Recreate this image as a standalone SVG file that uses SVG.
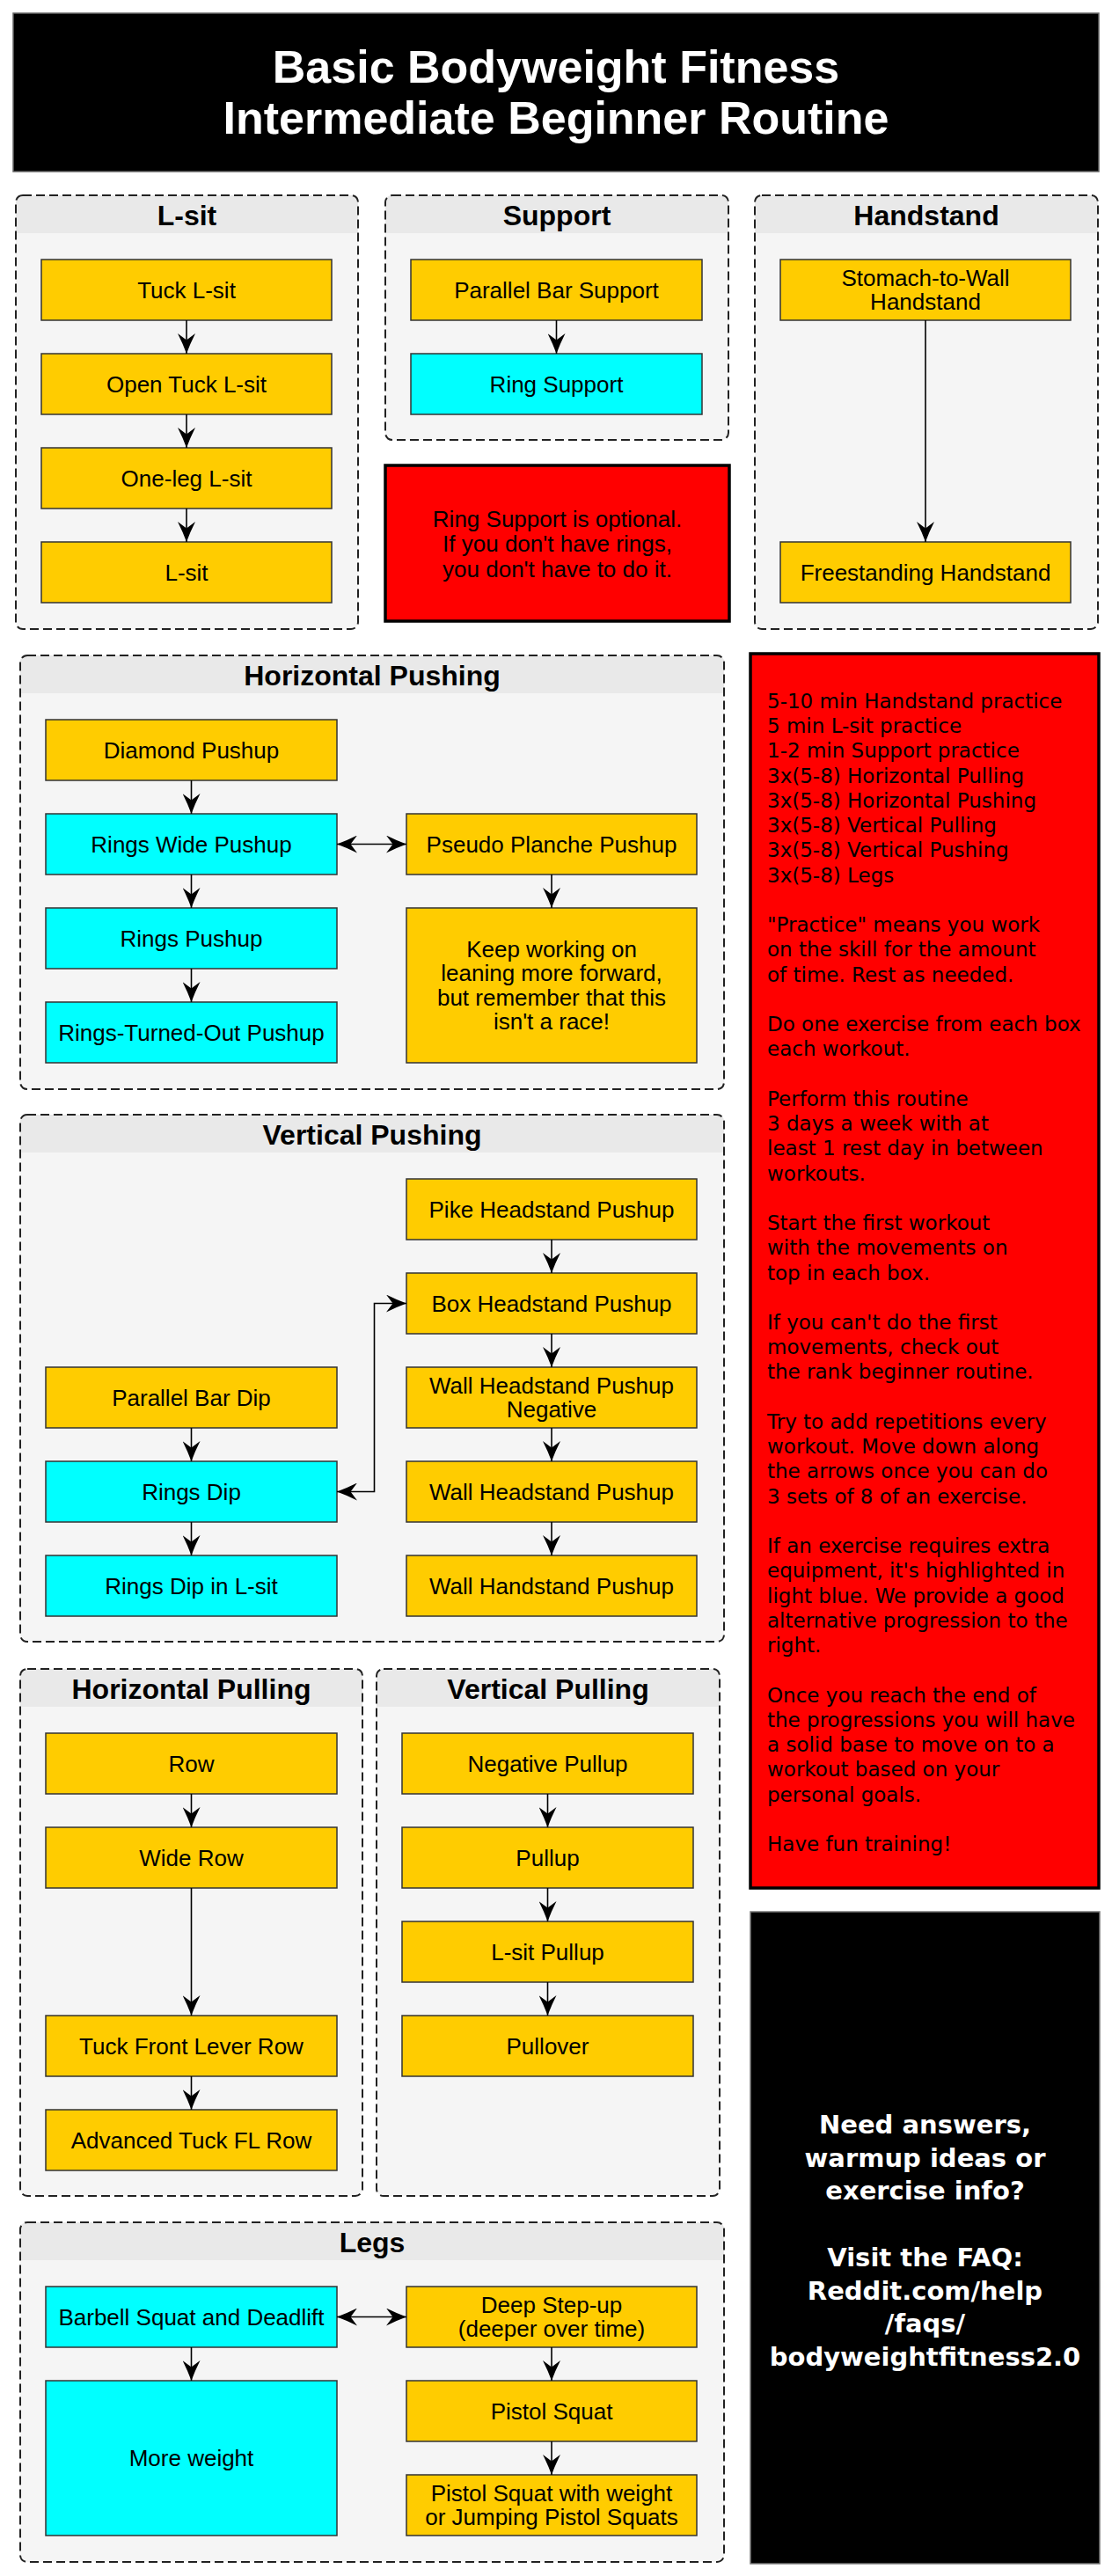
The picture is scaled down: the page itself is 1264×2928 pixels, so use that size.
<svg xmlns="http://www.w3.org/2000/svg" width="1264" height="2928" viewBox="0 0 1264 2928">
<style>
.cl{fill:#f5f5f5}
.hd{fill:#e9e9e9}
.bd{fill:none;stroke:#222;stroke-width:2;stroke-dasharray:10 5}
.ct{font-family:"Liberation Sans",Arial,sans-serif;font-weight:bold;font-size:32px;text-anchor:middle;fill:#000}
.y{fill:#ffcc00;stroke:#333;stroke-width:1.5}
.c{fill:#00ffff;stroke:#333;stroke-width:1.5}
.t{font-family:"Liberation Sans",Arial,sans-serif;font-size:26px;text-anchor:middle;fill:#000}
.e{fill:none;stroke:#000;stroke-width:1.6;marker-end:url(#ah)}
.d{marker-start:url(#ah)}
.p{font-family:"DejaVu Sans",Verdana,sans-serif;font-size:23px;fill:#000}
.w{font-family:"DejaVu Sans",Verdana,sans-serif;font-weight:bold;font-size:29px;fill:#fff;text-anchor:middle}
</style>
<defs>
<marker id="ah" viewBox="0 0 23 20" refX="23" refY="10" markerWidth="23" markerHeight="20" markerUnits="userSpaceOnUse" orient="auto-start-reverse">
<path d="M0,0 Q12,6 23,10 Q12,14 0,20 L7.5,10 Z" fill="#000"/>
</marker>
</defs>
<rect width="1264" height="2928" fill="#fff"/>

<g id="title">
<rect x="15" y="15" width="1234" height="180" fill="#000" stroke="#666" stroke-width="1.5"/>
<text x="632" y="94" font-family="Liberation Sans, Arial, sans-serif" font-weight="bold" font-size="52" fill="#fff" text-anchor="middle">Basic Bodyweight Fitness</text>
<text x="632" y="151.5" font-family="Liberation Sans, Arial, sans-serif" font-weight="bold" font-size="52" fill="#fff" text-anchor="middle">Intermediate Beginner Routine</text>
</g>

<!-- clusters -->
<g id="cluster-lsit">
<rect class="cl" x="18" y="222" width="389" height="493" rx="8"/>
<path class="hd" d="M18,265 V230 Q18,222 26,222 H399 Q407,222 407,230 V265 Z"/>
<rect class="bd" x="18" y="222" width="389" height="493" rx="8"/>
<text class="ct" x="212.5" y="256">L-sit</text>
</g>
<g id="cluster-support">
<rect class="cl" x="438" y="222" width="390" height="278" rx="8"/>
<path class="hd" d="M438,265 V230 Q438,222 446,222 H820 Q828,222 828,230 V265 Z"/>
<rect class="bd" x="438" y="222" width="390" height="278" rx="8"/>
<text class="ct" x="633" y="256">Support</text>
</g>
<g id="cluster-handstand">
<rect class="cl" x="858" y="222" width="390" height="493" rx="8"/>
<path class="hd" d="M858,265 V230 Q858,222 866,222 H1240 Q1248,222 1248,230 V265 Z"/>
<rect class="bd" x="858" y="222" width="390" height="493" rx="8"/>
<text class="ct" x="1053" y="256">Handstand</text>
</g>
<g id="cluster-hpush">
<rect class="cl" x="23" y="745" width="800" height="493" rx="8"/>
<path class="hd" d="M23,788 V753 Q23,745 31,745 H815 Q823,745 823,753 V788 Z"/>
<rect class="bd" x="23" y="745" width="800" height="493" rx="8"/>
<text class="ct" x="423" y="779">Horizontal Pushing</text>
</g>
<g id="cluster-vpush">
<rect class="cl" x="23" y="1267" width="800" height="599" rx="8"/>
<path class="hd" d="M23,1310 V1275 Q23,1267 31,1267 H815 Q823,1267 823,1275 V1310 Z"/>
<rect class="bd" x="23" y="1267" width="800" height="599" rx="8"/>
<text class="ct" x="423" y="1301">Vertical Pushing</text>
</g>
<g id="cluster-hpull">
<rect class="cl" x="23" y="1897" width="389" height="599" rx="8"/>
<path class="hd" d="M23,1940 V1905 Q23,1897 31,1897 H404 Q412,1897 412,1905 V1940 Z"/>
<rect class="bd" x="23" y="1897" width="389" height="599" rx="8"/>
<text class="ct" x="217.5" y="1931">Horizontal Pulling</text>
</g>
<g id="cluster-vpull">
<rect class="cl" x="428" y="1897" width="390" height="599" rx="8"/>
<path class="hd" d="M428,1940 V1905 Q428,1897 436,1897 H810 Q818,1897 818,1905 V1940 Z"/>
<rect class="bd" x="428" y="1897" width="390" height="599" rx="8"/>
<text class="ct" x="623" y="1931">Vertical Pulling</text>
</g>
<g id="cluster-legs">
<rect class="cl" x="23" y="2526" width="800" height="386" rx="8"/>
<path class="hd" d="M23,2569 V2534 Q23,2526 31,2526 H815 Q823,2526 823,2534 V2569 Z"/>
<rect class="bd" x="23" y="2526" width="800" height="386" rx="8"/>
<text class="ct" x="423" y="2560">Legs</text>
</g>

<!-- nodes: L-sit -->
<g id="tuck-lsit"><rect class="y" x="47" y="295" width="330" height="69"/><text class="t" x="212" y="338.5">Tuck L-sit</text></g>
<g id="open-tuck-lsit"><rect class="y" x="47" y="402" width="330" height="69"/><text class="t" x="212" y="445.5">Open Tuck L-sit</text></g>
<g id="one-leg-lsit"><rect class="y" x="47" y="509" width="330" height="69"/><text class="t" x="212" y="552.5">One-leg L-sit</text></g>
<g id="lsit"><rect class="y" x="47" y="616" width="330" height="69"/><text class="t" x="212" y="659.5">L-sit</text></g>

<!-- Support -->
<g id="parallel-bar-support"><rect class="y" x="467" y="295" width="331" height="69"/><text class="t" x="632.5" y="338.5">Parallel Bar Support</text></g>
<g id="ring-support"><rect class="c" x="467" y="402" width="331" height="69"/><text class="t" x="632.5" y="445.5">Ring Support</text></g>
<g id="ring-note"><rect x="438" y="529" width="391" height="177" fill="#ff0000" stroke="#000" stroke-width="3.5"/>
<text class="t" x="633.5" y="598.5">Ring Support is optional.</text>
<text class="t" x="633.5" y="627">If you don't have rings,</text>
<text class="t" x="633.5" y="655.5">you don't have to do it.</text></g>

<!-- Handstand -->
<g id="stomach-to-wall"><rect class="y" x="887" y="295" width="330" height="69"/><text class="t" x="1052" y="324.7">Stomach-to-Wall</text><text class="t" x="1052" y="352.3">Handstand</text></g>
<g id="freestanding"><rect class="y" x="887" y="616" width="330" height="69"/><text class="t" x="1052" y="659.5">Freestanding Handstand</text></g>

<!-- Horizontal Pushing -->
<g id="diamond-pushup"><rect class="y" x="52" y="818" width="331" height="69"/><text class="t" x="217.5" y="861.5">Diamond Pushup</text></g>
<g id="rings-wide-pushup"><rect class="c" x="52" y="925" width="331" height="69"/><text class="t" x="217.5" y="968.5">Rings Wide Pushup</text></g>
<g id="rings-pushup"><rect class="c" x="52" y="1032" width="331" height="69"/><text class="t" x="217.5" y="1075.5">Rings Pushup</text></g>
<g id="rings-turned-out"><rect class="c" x="52" y="1139" width="331" height="69"/><text class="t" x="217.5" y="1182.5">Rings-Turned-Out Pushup</text></g>
<g id="pseudo-planche"><rect class="y" x="462" y="925" width="330" height="69"/><text class="t" x="627" y="968.5">Pseudo Planche Pushup</text></g>
<g id="keep-working"><rect class="y" x="462" y="1032" width="330" height="176"/>
<text class="t" x="627" y="1087.75">Keep working on</text>
<text class="t" x="627" y="1115.25">leaning more forward,</text>
<text class="t" x="627" y="1142.75">but remember that this</text>
<text class="t" x="627" y="1170.25">isn't a race!</text></g>

<!-- Vertical Pushing -->
<g id="pike-hs-pushup"><rect class="y" x="462" y="1340" width="330" height="69"/><text class="t" x="627" y="1383.5">Pike Headstand Pushup</text></g>
<g id="box-hs-pushup"><rect class="y" x="462" y="1447" width="330" height="69"/><text class="t" x="627" y="1490.5">Box Headstand Pushup</text></g>
<g id="wall-hs-neg"><rect class="y" x="462" y="1554" width="330" height="69"/><text class="t" x="627" y="1583.7">Wall Headstand Pushup</text><text class="t" x="627" y="1611.3">Negative</text></g>
<g id="wall-hs-pushup"><rect class="y" x="462" y="1661" width="330" height="69"/><text class="t" x="627" y="1704.5">Wall Headstand Pushup</text></g>
<g id="wall-handstand-pushup"><rect class="y" x="462" y="1768" width="330" height="69"/><text class="t" x="627" y="1811.5">Wall Handstand Pushup</text></g>
<g id="parallel-bar-dip"><rect class="y" x="52" y="1554" width="331" height="69"/><text class="t" x="217.5" y="1597.5">Parallel Bar Dip</text></g>
<g id="rings-dip"><rect class="c" x="52" y="1661" width="331" height="69"/><text class="t" x="217.5" y="1704.5">Rings Dip</text></g>
<g id="rings-dip-lsit"><rect class="c" x="52" y="1768" width="331" height="69"/><text class="t" x="217.5" y="1811.5">Rings Dip in L-sit</text></g>

<!-- Horizontal Pulling -->
<g id="row"><rect class="y" x="52" y="1970" width="331" height="69"/><text class="t" x="217.5" y="2013.5">Row</text></g>
<g id="wide-row"><rect class="y" x="52" y="2077" width="331" height="69"/><text class="t" x="217.5" y="2120.5">Wide Row</text></g>
<g id="tuck-fl-row"><rect class="y" x="52" y="2291" width="331" height="69"/><text class="t" x="217.5" y="2334.5">Tuck Front Lever Row</text></g>
<g id="adv-tuck-fl-row"><rect class="y" x="52" y="2398" width="331" height="69"/><text class="t" x="217.5" y="2441.5">Advanced Tuck FL Row</text></g>

<!-- Vertical Pulling -->
<g id="negative-pullup"><rect class="y" x="457" y="1970" width="331" height="69"/><text class="t" x="622.5" y="2013.5">Negative Pullup</text></g>
<g id="pullup"><rect class="y" x="457" y="2077" width="331" height="69"/><text class="t" x="622.5" y="2120.5">Pullup</text></g>
<g id="lsit-pullup"><rect class="y" x="457" y="2184" width="331" height="69"/><text class="t" x="622.5" y="2227.5">L-sit Pullup</text></g>
<g id="pullover"><rect class="y" x="457" y="2291" width="331" height="69"/><text class="t" x="622.5" y="2334.5">Pullover</text></g>

<!-- Legs -->
<g id="barbell"><rect class="c" x="52" y="2599" width="331" height="69"/><text class="t" x="217.5" y="2642.5">Barbell Squat and Deadlift</text></g>
<g id="more-weight"><rect class="c" x="52" y="2706" width="331" height="176"/><text class="t" x="217.5" y="2803">More weight</text></g>
<g id="deep-step-up"><rect class="y" x="462" y="2599" width="330" height="69"/><text class="t" x="627" y="2628.7">Deep Step-up</text><text class="t" x="627" y="2656.3">(deeper over time)</text></g>
<g id="pistol-squat"><rect class="y" x="462" y="2706" width="330" height="69"/><text class="t" x="627" y="2749.5">Pistol Squat</text></g>
<g id="pistol-weight"><rect class="y" x="462" y="2813" width="330" height="69"/><text class="t" x="627" y="2842.7">Pistol Squat with weight</text><text class="t" x="627" y="2870.3">or Jumping Pistol Squats</text></g>

<!-- info panels -->
<g id="info">
<rect x="853" y="743" width="396" height="1403" fill="#ff0000" stroke="#000" stroke-width="3.5"/>
<text class="p" x="872" y="805">5-10 min Handstand practice<tspan x="872" dy="28.24">5 min L-sit practice</tspan><tspan x="872" dy="28.24">1-2 min Support practice</tspan><tspan x="872" dy="28.24">3x(5-8) Horizontal Pulling</tspan><tspan x="872" dy="28.24">3x(5-8) Horizontal Pushing</tspan><tspan x="872" dy="28.24">3x(5-8) Vertical Pulling</tspan><tspan x="872" dy="28.24">3x(5-8) Vertical Pushing</tspan><tspan x="872" dy="28.24">3x(5-8) Legs</tspan><tspan x="872" dy="56.48">"Practice" means you work</tspan><tspan x="872" dy="28.24">on the skill for the amount</tspan><tspan x="872" dy="28.24">of time. Rest as needed.</tspan><tspan x="872" dy="56.48">Do one exercise from each box</tspan><tspan x="872" dy="28.24">each workout.</tspan><tspan x="872" dy="56.48">Perform this routine</tspan><tspan x="872" dy="28.24">3 days a week with at</tspan><tspan x="872" dy="28.24">least 1 rest day in between</tspan><tspan x="872" dy="28.24">workouts.</tspan><tspan x="872" dy="56.48">Start the first workout</tspan><tspan x="872" dy="28.24">with the movements on</tspan><tspan x="872" dy="28.24">top in each box.</tspan><tspan x="872" dy="56.48">If you can't do the first</tspan><tspan x="872" dy="28.24">movements, check out</tspan><tspan x="872" dy="28.24">the rank beginner routine.</tspan><tspan x="872" dy="56.48">Try to add repetitions every</tspan><tspan x="872" dy="28.24">workout. Move down along</tspan><tspan x="872" dy="28.24">the arrows once you can do</tspan><tspan x="872" dy="28.24">3 sets of 8 of an exercise.</tspan><tspan x="872" dy="56.48">If an exercise requires extra</tspan><tspan x="872" dy="28.24">equipment, it's highlighted in</tspan><tspan x="872" dy="28.24">light blue. We provide a good</tspan><tspan x="872" dy="28.24">alternative progression to the</tspan><tspan x="872" dy="28.24">right.</tspan><tspan x="872" dy="56.48">Once you reach the end of</tspan><tspan x="872" dy="28.24">the progressions you will have</tspan><tspan x="872" dy="28.24">a solid base to move on to a</tspan><tspan x="872" dy="28.24">workout based on your</tspan><tspan x="872" dy="28.24">personal goals.</tspan><tspan x="872" dy="56.48">Have fun training!</tspan></text>
</g>
<g id="faq">
<rect x="853" y="2173" width="397" height="741" fill="#000" stroke="#777" stroke-width="1.5"/>
<text class="w" x="1051.5" y="2425">Need answers,<tspan x="1051.5" dy="37.7">warmup ideas or</tspan><tspan x="1051.5" dy="37.7">exercise info?</tspan><tspan x="1051.5" dy="75.4">Visit the FAQ:</tspan><tspan x="1051.5" dy="37.7">Reddit.com/help</tspan><tspan x="1051.5" dy="37.7">/faqs/</tspan><tspan x="1051.5" dy="37.7">bodyweightfitness2.0</tspan></text>
</g>

<!-- connectors -->
<g id="connectors">
<path class="e" d="M212,364 V402"/>
<path class="e" d="M212,471 V509"/>
<path class="e" d="M212,578 V616"/>
<path class="e" d="M632.5,364 V402"/>
<path class="e" d="M1052,364 V616"/>
<path class="e" d="M217.5,887 V925"/>
<path class="e" d="M217.5,994 V1032"/>
<path class="e" d="M217.5,1101 V1139"/>
<path class="e" d="M627,994 V1032"/>
<path class="e d" d="M383,959.5 H462"/>
<path class="e" d="M627,1409 V1447"/>
<path class="e" d="M627,1516 V1554"/>
<path class="e" d="M627,1623 V1661"/>
<path class="e" d="M627,1730 V1768"/>
<path class="e" d="M217.5,1623 V1661"/>
<path class="e" d="M217.5,1730 V1768"/>
<path class="e d" d="M383,1695.5 H425.5 V1481.5 H462"/>
<path class="e" d="M217.5,2039 V2077"/>
<path class="e" d="M217.5,2146 V2291"/>
<path class="e" d="M217.5,2360 V2398"/>
<path class="e" d="M622.5,2039 V2077"/>
<path class="e" d="M622.5,2146 V2184"/>
<path class="e" d="M622.5,2253 V2291"/>
<path class="e d" d="M383,2633.5 H462"/>
<path class="e" d="M217.5,2668 V2706"/>
<path class="e" d="M627,2668 V2706"/>
<path class="e" d="M627,2775 V2813"/>
</g>
</svg>
